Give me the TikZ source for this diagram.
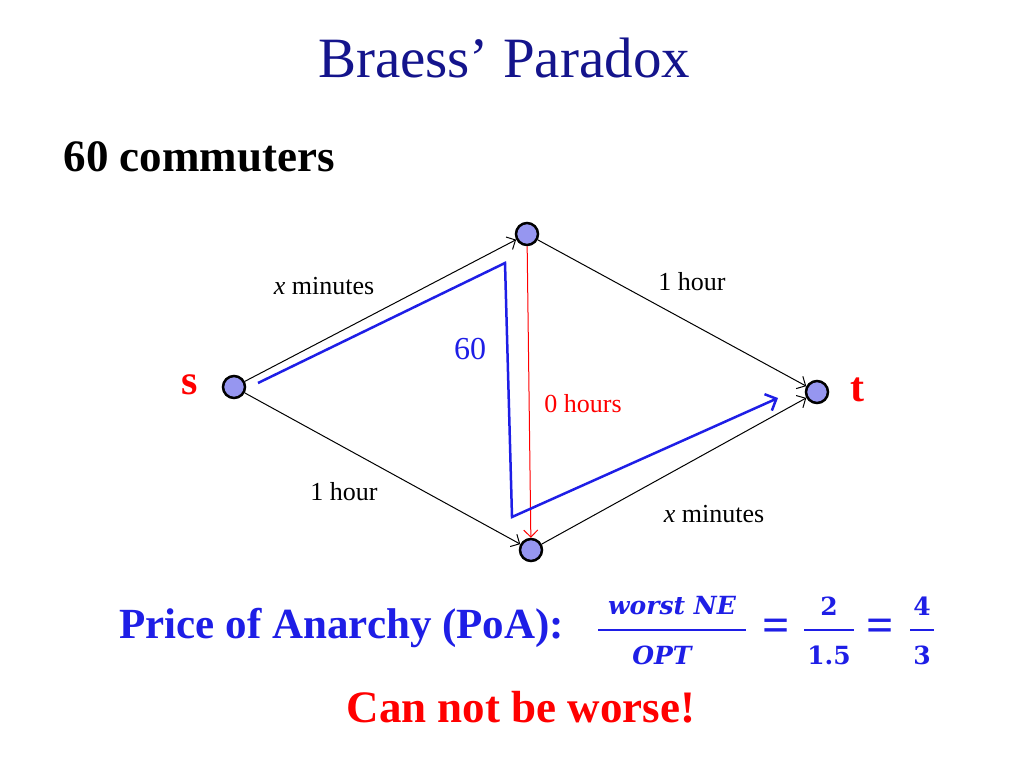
\documentclass[tikz,border=0pt]{standalone}
\usepackage{fontspec}
\setmainfont{Liberation Serif}
\newfontfamily\mathlike{DejaVu Serif}
\usetikzlibrary{arrows.meta}
\definecolor{navy}{RGB}{20,20,140}
\definecolor{pblue}{RGB}{30,30,230}
\definecolor{nfill}{RGB}{150,150,240}
\tikzset{
  vtx/.style={circle,draw=black,line width=2.5pt,fill=nfill,minimum size=22pt,inner sep=0pt},
  edge/.style={-{Straight Barb[length=7pt]},line width=1pt},
  lab/.style={font=\fontsize{26}{30}\selectfont},
  fr/.style={font=\mathlike\bfseries\itshape\fontsize{25}{28}\selectfont,inner sep=1pt},
  frn/.style={font=\mathlike\bfseries\fontsize{25}{28}\selectfont,inner sep=1pt},
}
\begin{document}
\begin{tikzpicture}[x=1pt,y=-1pt]
\useasboundingbox (0,0) rectangle (1024,768);
\node[text=navy,font=\fontsize{57}{64}\selectfont] (title) at (504,58) {Braess’ Paradox};
\node[font=\bfseries\fontsize{45}{50}\selectfont,anchor=west] (comm) at (60,157) {60 commuters};
\node[vtx] (s) at (234,387) {};
\node[vtx] (a) at (527,234) {};
\node[vtx] (b) at (531,550) {};
\node[vtx] (t) at (817,392) {};
\draw[edge] (s) -- (a);
\draw[edge] (s) -- (b);
\draw[edge] (a) -- (t);
\draw[edge] (b) -- (t);
\draw[edge,red] (a) -- (b);
\coordinate (p0) at (258,383);
\coordinate (p1) at (505,263);
\coordinate (p2) at (512,517);
\coordinate (p3) at (778,398);
\draw[pblue,line width=2.5pt,-{Straight Barb[length=9pt]}] (p0) -- (p1) -- (p2) -- (p3);
\node[text=red,font=\bfseries\fontsize{42}{46}\selectfont] (sl) at (190,385) {s};
\node[text=red,font=\bfseries\fontsize{42}{46}\selectfont] (tl) at (857,390) {t};
\node[lab] (l1) at (324,286) {\textit{x} minutes};
\node[lab] (l2) at (692,282) {1 hour};
\node[lab,text=pblue,font=\fontsize{32}{36}\selectfont] (l60) at (470,349) {60};
\node[lab,text=red] (l0) at (583,404) {0 hours};
\node[lab] (l3) at (344,492) {1 hour};
\node[lab] (l4) at (714,514) {\textit{x} minutes};
\node[text=pblue,font=\bfseries\fontsize{43}{48}\selectfont,anchor=west] (poa) at (116,628) {Price of Anarchy (PoA):};
\node[fr,text=pblue] (n1) at (672,606) {worst NE};
\node[fr,text=pblue] (d1) at (662,655) {OPT};
\draw[pblue,line width=1.5pt] (598,630) -- (746,630);
\node[text=pblue,font=\bfseries\fontsize{48}{50}\selectfont] (eq1) at (776,630) {=};
\node[frn,text=pblue] (n2) at (829,606) {2};
\node[frn,text=pblue] (d2) at (829,655) {1.5};
\draw[pblue,line width=1.5pt] (804,630) -- (854,630);
\node[text=pblue,font=\bfseries\fontsize{48}{50}\selectfont] (eq2) at (880,630) {=};
\node[frn,text=pblue] (n3) at (922,606) {4};
\node[frn,text=pblue] (d3) at (922,655) {3};
\draw[pblue,line width=1.5pt] (910,630) -- (934,630);
\node[text=red,font=\bfseries\fontsize{45}{50}\selectfont] (cnw) at (521,707) {Can not be worse!};
\end{tikzpicture}
\end{document}
